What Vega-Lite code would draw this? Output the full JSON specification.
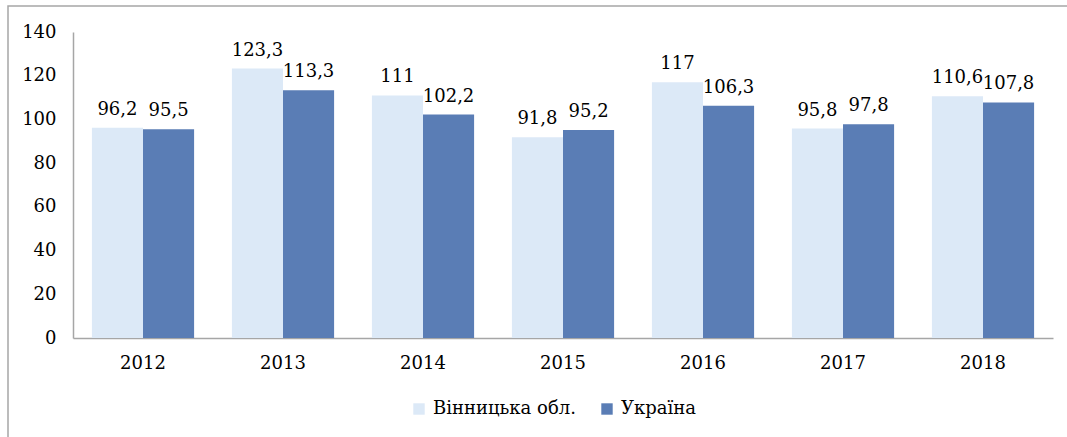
{
  "$schema": "https://vega.github.io/schema/vega-lite/v6.json",
  "width": 1062,
  "height": 434,
  "autosize": {"type": "none"},
  "padding": {"left": 8, "top": 6, "right": 0, "bottom": 0},
  "background": "white",
  "config": {
    "view": {"stroke": "#a6a6a6", "strokeWidth": 1.5},
    "font": "DejaVu Serif",
    "locale": {"number": {"decimal": ",", "thousands": " ", "grouping": [3], "currency": ["", ""]}}
  },
  "data": {
    "values": [
      {"year": "2012", "region": "Вінницька обл.", "value": 96.2},
      {"year": "2012", "region": "Україна", "value": 95.5},
      {"year": "2013", "region": "Вінницька обл.", "value": 123.3},
      {"year": "2013", "region": "Україна", "value": 113.3},
      {"year": "2014", "region": "Вінницька обл.", "value": 111},
      {"year": "2014", "region": "Україна", "value": 102.2},
      {"year": "2015", "region": "Вінницька обл.", "value": 91.8},
      {"year": "2015", "region": "Україна", "value": 95.2},
      {"year": "2016", "region": "Вінницька обл.", "value": 117},
      {"year": "2016", "region": "Україна", "value": 106.3},
      {"year": "2017", "region": "Вінницька обл.", "value": 95.8},
      {"year": "2017", "region": "Україна", "value": 97.8},
      {"year": "2018", "region": "Вінницька обл.", "value": 110.6},
      {"year": "2018", "region": "Україна", "value": 107.8}
    ]
  },
  "encoding": {
    "x": {
      "field": "year", "type": "nominal",
      "scale": {"range": [65, 1045], "paddingInner": 0.27, "paddingOuter": 0.135},
      "axis": {
        "title": null, "orient": "bottom", "offset": -102, "labelAngle": 0,
        "domainColor": "#a6a6a6", "domainWidth": 1.5, "ticks": false,
        "labelFont": "DejaVu Serif", "labelFontSize": 18, "labelColor": "#000000",
        "labelPadding": 16
      }
    },
    "xOffset": {"field": "region", "type": "nominal", "sort": ["Вінницька обл.", "Україна"]},
    "y": {
      "field": "value", "type": "quantitative",
      "scale": {"domain": [0, 140], "range": [332, 26], "nice": false},
      "axis": {
        "title": null, "orient": "left", "offset": -65, "values": [0, 20, 40, 60, 80, 100, 120, 140],
        "grid": false, "ticks": false, "domainColor": "#a6a6a6", "domainWidth": 1.5,
        "labelFont": "DejaVu Serif", "labelFontSize": 18, "labelColor": "#000000",
        "labelPadding": 17
      }
    }
  },
  "layer": [
    {
      "mark": {"type": "bar"},
      "encoding": {
        "color": {
          "field": "region", "type": "nominal",
          "scale": {"domain": ["Вінницька обл.", "Україна"], "range": ["#dce9f7", "#5a7db5"]},
          "legend": {
            "title": null, "orient": "none", "direction": "horizontal",
            "legendX": 402, "legendY": 394,
            "symbolType": "square", "symbolSize": 130, "symbolStrokeWidth": 0,
            "labelFont": "DejaVu Serif", "labelFontSize": 18, "labelColor": "#000000",
            "labelOffset": 5, "columnPadding": 22, "labelLimit": 300
          }
        }
      }
    },
    {
      "mark": {"type": "text", "baseline": "alphabetic", "dy": -13, "font": "DejaVu Serif", "fontSize": 18, "color": "#000000"},
      "encoding": {
        "text": {"field": "value", "type": "quantitative", "format": ".1~f"}
      }
    }
  ]
}
